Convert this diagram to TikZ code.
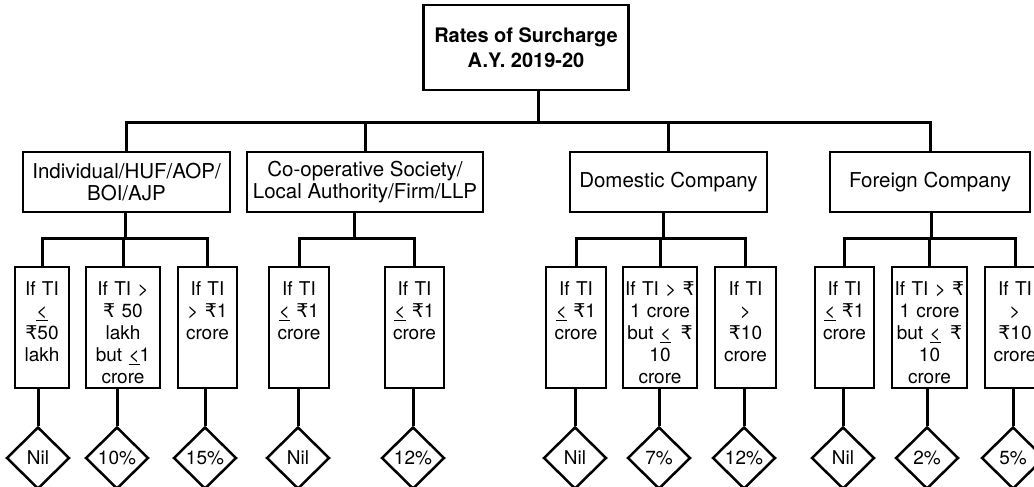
\documentclass[tikz,border=0pt]{standalone}
\usepackage{fontspec}
\setmainfont{TeX Gyre Heros}
\newfontfamily\rsfont{DejaVu Sans}
\usetikzlibrary{shapes.geometric}
\newcommand{\rs}{{\rsfont ₹}}
\newcommand{\lte}{\underline{<}}
\tikzset{
  srhead/.style={
    draw,
    line width=2.5pt,
    align=center,
    inner sep=0pt,
    minimum width=205pt,
    minimum height=85pt,
    font=\bfseries\fontsize{20}{25}\selectfont
  },
  srgroup/.style={
    draw,
    line width=2.5pt,
    align=center,
    inner sep=0pt,
    minimum height=60pt,
    font=\fontsize{20.5}{22}\selectfont
  },
  srleaf/.style={
    draw,
    line width=2.5pt,
    align=center,
    inner sep=0pt,
    minimum width=#1,
    text width=#1,
    text height=28pt,
    text depth=93pt,
    font=\fontsize{19}{22}\selectfont
  },
  srrate/.style={
    draw,
    diamond,
    aspect=1,
    line width=2.5pt,
    inner sep=0pt,
    minimum width=63pt,
    minimum height=62pt,
    font=\fontsize{19}{22}\selectfont
  },
  srlink/.style={line width=3pt}
}

\begin{document}
\begin{tikzpicture}[x=1pt,y=-1pt]
  \useasboundingbox (0,0) rectangle (1034,487);
  \clip (0,0) rectangle (1034,487);

  \node[srhead] (head) at (526,47.5) {Rates of Surcharge\\A.Y. 2019-20};

  \node[srgroup,minimum width=207pt] (ind) at (126.5,182) {Individual/HUF/AOP/\\BOI/AJP};
  \node[srgroup,minimum width=236pt] (coop) at (365,182) {Co-operative Society/\\Local Authority/Firm/LLP};
  \node[srgroup,minimum width=197pt] (dom) at (668.5,182) {Domestic Company};
  \node[srgroup,minimum width=200pt] (forn) at (930,182) {Foreign Company};

  \coordinate (hub) at (538,122);
  \coordinate (indhub) at (125,238);
  \coordinate (coophub) at (354,238);
  \coordinate (domhub) at (663,238);
  \coordinate (fornhub) at (931,238);

  % slabs under each group
  \node[srleaf=54pt] (l1) at (42,327.5) {If TI\\\lte\\\rs50\\lakh};
  \node[srleaf=74pt] (l2) at (123,327.5) {If TI >\\\rs\ 50\\lakh\\but \lte1\\crore};
  \node[srleaf=59pt] (l3) at (207.5,327.5) {If TI\\> \rs1\\crore};
  \node[srleaf=60pt] (l4) at (299,327.5) {If TI\\\lte\ \rs1\\crore};
  \node[srleaf=59pt] (l5) at (414.5,327.5) {If TI\\\lte\ \rs1\\crore};
  \node[srleaf=60pt] (l6) at (576,327.5) {If TI\\\lte\ \rs1\\crore};
  \node[srleaf=74pt] (l7) at (660,327.5) {If TI > \rs\\1 crore\\but \lte\enspace\rs\\10\\crore};
  \node[srleaf=61pt] (l8) at (745.5,327.5) {If TI\\>\\\rs10\\crore};
  \node[srleaf=59pt] (l9) at (844.5,327.5) {If TI\\\lte\ \rs1\\crore};
  \node[srleaf=75pt] (l10) at (929.5,327.5) {If TI > \rs\\1 crore\\but \lte\enspace\rs\\10\\crore};
  \node[srleaf=60pt] (l11) at (1015,327.5) {If TI\\>\\\rs10\\crore};

  % rates
  \node[srrate] (r1) at (38,458) {Nil};
  \node[srrate] (r2) at (117,458) {10\%};
  \node[srrate] (r3) at (205,458) {15\%};
  \node[srrate] (r4) at (298,458) {Nil};
  \node[srrate] (r5) at (413,458) {12\%};
  \node[srrate] (r6) at (575,458) {Nil};
  \node[srrate] (r7) at (659,458) {7\%};
  \node[srrate] (r8) at (744,458) {12\%};
  \node[srrate] (r9) at (843,458) {Nil};
  \node[srrate] (r10) at (927,458) {2\%};
  \node[srrate] (r11) at (1013,458) {5\%};

  \draw[srlink] (head.south -| hub) -- (hub);
  \foreach \g in {ind,coop,dom,forn}
    \draw[srlink] (hub) -| (\g.north);

  \foreach \g/\a/\b/\c in {ind/l1/l2/l3,dom/l6/l7/l8,forn/l9/l10/l11} {
    \draw[srlink] (\g.south -| \g hub) -- (\g hub);
    \draw[srlink] (\g hub) -| (\a.north);
    \draw[srlink] (\g hub) -| (\b.north);
    \draw[srlink] (\g hub) -| (\c.north);
  }
  \draw[srlink] (coop.south -| coophub) -- (coophub);
  \draw[srlink] (coophub) -| (l4.north);
  \draw[srlink] (coophub) -| (l5.north);

  \foreach \i in {1,...,11}
    \draw[srlink] (r\i.north |- l\i.south) -- (r\i.north);
\end{tikzpicture}
\end{document}
